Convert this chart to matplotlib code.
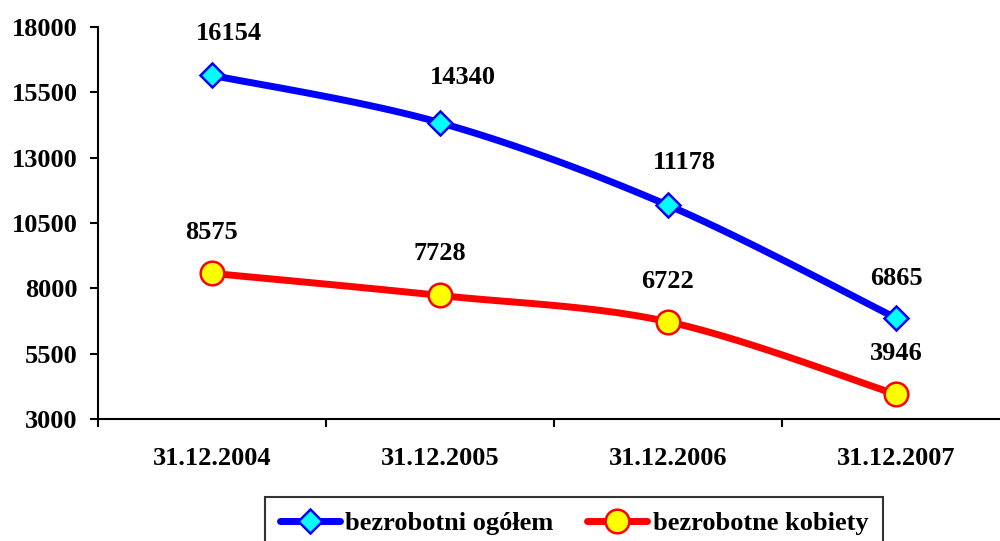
import numpy as np
import matplotlib
matplotlib.use("Agg")
import matplotlib.pyplot as plt
from matplotlib.lines import Line2D

# dane
kategorie = ["31.12.2004", "31.12.2005", "31.12.2006", "31.12.2007"]
ogolem = [16154, 14340, 11178, 6865]
kobiety = [8575, 7728, 6722, 3946]
y_ticks = [3000, 5500, 8000, 10500, 13000, 15500, 18000]

# przesuniecia etykiet danych (w punktach)
dx_ogolem = [12, 16.5, 12, 0]
dy_ogolem = [30, 32.5, 30.5, 28.5]
dx_kobiety = [0, 0, 0, 0]
dy_kobiety = [29.5, 30, 29, 29.5]

plt.rcParams['font.family'] = ['Liberation Serif', 'DejaVu Serif']
plt.rcParams['font.weight'] = 'bold'
FS = 19


def gladka(xs, ys, n=40):
    # wygladzanie linii jak w Excelu (Catmull-Rom)
    xs = np.asarray(xs, float)
    ys = np.asarray(ys, float)
    px = np.concatenate([[xs[0]], xs, [xs[-1]]])
    py = np.concatenate([[ys[0]], ys, [ys[-1]]])
    ox, oy = [], []
    t = np.linspace(0, 1, n)
    for i in range(1, len(px) - 2):
        for p, out in ((px, ox), (py, oy)):
            p0, p1, p2, p3 = p[i - 1], p[i], p[i + 1], p[i + 2]
            c1 = p1 + (p2 - p0) / 6
            c2 = p2 - (p3 - p1) / 6
            seg = ((1 - t) ** 3 * p1 + 3 * (1 - t) ** 2 * t * c1
                   + 3 * (1 - t) * t ** 2 * c2 + t ** 3 * p2)
            out.extend(seg if i == 1 else seg[1:])
    return np.array(ox), np.array(oy)


fig = plt.figure(figsize=(10, 5.41), dpi=100)
ax = fig.add_axes([0.098, 0.2255, 0.912, 0.7245])

x = np.arange(len(kategorie))

sx, sy = gladka(x, ogolem)
ax.plot(sx, sy, color='#0000FF', lw=5, solid_capstyle='round', zorder=2)
ax.plot(x, ogolem, ls='none', marker='D', ms=12.5, mfc='#00FFFF',
        mec='#0000FF', mew=1.8, zorder=3)

sx, sy = gladka(x, kobiety)
ax.plot(sx, sy, color='#FF0000', lw=5, solid_capstyle='round', zorder=2)
ax.plot(x, kobiety, ls='none', marker='o', ms=17, mfc='#FFFF00',
        mec='#FF0000', mew=1.8, zorder=3)

for xi, v, dx, dy in zip(x, ogolem, dx_ogolem, dy_ogolem):
    ax.annotate(str(v), (xi, v), xytext=(dx, dy), textcoords='offset points',
                ha='center', va='center', fontsize=FS, fontweight='bold')
for xi, v, dx, dy in zip(x, kobiety, dx_kobiety, dy_kobiety):
    ax.annotate(str(v), (xi, v), xytext=(dx, dy), textcoords='offset points',
                ha='center', va='center', fontsize=FS, fontweight='bold')

ax.set_xlim(-0.5, len(kategorie) - 0.5)
ax.set_ylim(3000, 18000)
ax.set_yticks(y_ticks)
ax.set_yticklabels([str(v) for v in y_ticks], fontsize=FS, fontweight='bold')
ax.tick_params(axis='y', direction='out', length=6, width=1.5, pad=8.5)

ax.set_xticks(x)
ax.set_xticklabels(kategorie, fontsize=FS, fontweight='bold')
ax.set_xticks(np.arange(-0.5, len(kategorie)), minor=True)
ax.tick_params(axis='x', which='major', length=0, pad=20)
ax.tick_params(axis='x', which='minor', direction='out', length=6, width=1.5)

for s in ['top', 'right']:
    ax.spines[s].set_visible(False)
for s in ['left', 'bottom']:
    ax.spines[s].set_linewidth(1.5)

uchwyty = [
    Line2D([], [], color='#0000FF', lw=5, marker='D', ms=12.5, mfc='#00FFFF',
           mec='#0000FF', mew=1.8, solid_capstyle='round'),
    Line2D([], [], color='#FF0000', lw=5, marker='o', ms=17, mfc='#FFFF00',
           mec='#FF0000', mew=1.8, solid_capstyle='round'),
]
leg = fig.legend(uchwyty, ["bezrobotni ogółem", "bezrobotne kobiety"],
                 loc='upper left', bbox_to_anchor=(0.265, 1 - 497 / 541),
                 ncol=2, fontsize=FS, frameon=True, fancybox=False,
                 handlelength=2.3, handletextpad=0.2, columnspacing=1.25,
                 borderpad=0.55, borderaxespad=0)
leg.get_frame().set_edgecolor('black')
leg.get_frame().set_linewidth(1.5)
for t in leg.get_texts():
    t.set_fontweight('bold')

fig.savefig("out.png", dpi=100)
